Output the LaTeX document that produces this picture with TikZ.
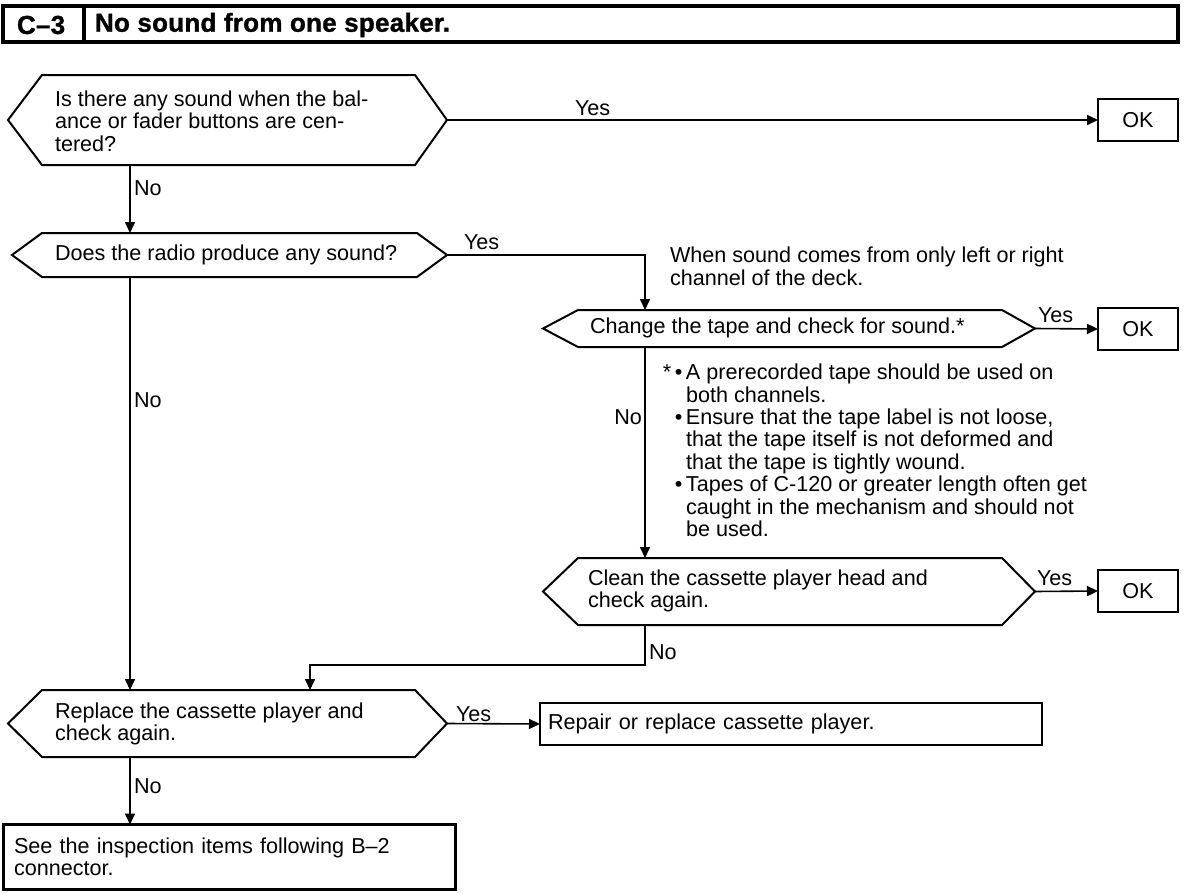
\documentclass[tikz,border=0pt]{standalone}
\usepackage{fontspec}
\setmainfont{Liberation Sans}
\usetikzlibrary{arrows.meta,calc,fit}
\newcommand{\hexdraw}[3]{%
  \draw[hexline] ($(#1.west)+(-#2,0)$) -- (#1.north west) -- (#1.north east) -- ($(#1.east)+(#3,0)$) -- (#1.south east) -- (#1.south west) -- cycle;
  \coordinate (#1-w) at ($(#1.west)+(-#2,0)$);
  \coordinate (#1-e) at ($(#1.east)+(#3,0)$);}
\newcommand{\mainsize}{\fontsize{10.8}{11.2}\selectfont}
\begin{document}
\begin{tikzpicture}[x=0.5pt,y=-0.5pt,
  every node/.style={inner sep=0pt, outer sep=0pt},
  txt/.style={font=\mainsize, align=left},
  hexline/.style={line width=1pt, line join=miter},
  conn/.style={line width=0.8pt},
  arr/.style={conn, -{Triangle[length=5.5pt,width=5pt]}},
  okbox/.style={draw, line width=1.2pt, minimum width=40pt, minimum height=21pt, font=\mainsize},
  lab/.style={font=\mainsize},
  ttl/.style={font=\bfseries\fontsize{13}{15}\selectfont\addfontfeature{LetterSpace=1,FakeBold=1.2}, anchor=west},
]
\useasboundingbox (0,0) rectangle (1200,894);
% title
\node[fit={(3,6) (1178,42)}, draw, line width=1.6pt] (title) {};
\coordinate (tdiv) at (84,6);
\draw[line width=1.6pt] (tdiv) -- (tdiv |- title.south);
\node[ttl] (tnum) at (17,25) {C–3};
\node[ttl] (ttext) at (95,25) {No sound from one speaker.};
% column coordinates
\coordinate (c1) at (130,0);
\coordinate (c3) at (645,0);
\coordinate (j1) at (310,665);
% decisions
\node[fit={(42,75) (415,165)}] (h1) {};
\hexdraw{h1}{34}{32}
\node[txt, anchor=west] (t1) at (55,121) {Is there any sound when the bal-\\ance or fader buttons are cen-\\tered?};
\node[fit={(42,233) (417,277)}] (h2) {};
\hexdraw{h2}{30}{30}
\node[txt, anchor=west] (t2) at (55,255) {Does the radio produce any sound?};
\node[fit={(578,310) (1002,347)}] (h3) {};
\hexdraw{h3}{35}{33}
\node[txt, anchor=west] (t3) at (590,328) {Change the tape and check for sound.*};
\node[fit={(578,558) (1002,625)}] (h4) {};
\hexdraw{h4}{35}{33}
\node[txt, anchor=west] (t4) at (588,591) {Clean the cassette player head and\\check again.};
\node[fit={(42,690) (415,757)}] (h5) {};
\hexdraw{h5}{34}{32}
\node[txt, anchor=west] (t5) at (55,724) {Replace the cassette player and\\check again.};
% results
\node[okbox] (ok1) at (1138,120) {OK};
\node[okbox] (ok2) at (1138,329) {OK};
\node[okbox] (ok3) at (1138,591) {OK};
\node[draw, line width=1.2pt, minimum width=251pt, minimum height=21pt, text width=243pt, inner xsep=4pt, txt] (rep) at (791,724) {Repair or replace cassette player.};
\node[draw, line width=1.5pt, minimum width=226pt, minimum height=32.5pt, text width=215pt, inner xsep=5.5pt, txt] (fin) at (229,857) {See the inspection items following B–2\\connector.};
% notes
\node[txt, anchor=north west] (note1) at (670,247) {When sound comes from only left or right\\channel of the deck.};
\node[txt, anchor=north west] (note2) at (658,364) {\makebox[14pt][r]{*\,\textbullet\,}A prerecorded tape should be used on\\
\hspace*{14pt}both channels.\\
\makebox[14pt][r]{\textbullet\,}Ensure that the tape label is not loose,\\
\hspace*{14pt}that the tape itself is not deformed and\\
\hspace*{14pt}that the tape is tightly wound.\\
\makebox[14pt][r]{\textbullet\,}Tapes of C-120 or greater length often get\\
\hspace*{14pt}caught in the mechanism and should not\\
\hspace*{14pt}be used.};
% connectors
\draw[arr] (h1-e) -- (ok1.west);
\node[lab, anchor=base west] (y1) at (575,115) {Yes};
\draw[arr] (h1.south -| c1) -- (h2.north -| c1);
\node[lab, anchor=west] (n1) at (134,188) {No};
\draw[arr] (h2-e) -| (h3.north -| c3);
\node[lab, anchor=base west] (y2) at (464,249) {Yes};
\draw[arr] (h2.south -| c1) -- (h5.north -| c1);
\node[lab, anchor=west] (n2) at (134,400) {No};
\draw[arr] (h3-e) -- (ok2.west);
\node[lab, anchor=base west] (y3) at (1038,322) {Yes};
\draw[arr] (h3.south -| c3) -- (h4.north -| c3);
\node[lab, anchor=east] (n3) at (642,417) {No};
\draw[arr] (h4-e) -- (ok3.west);
\node[lab, anchor=base west] (y4) at (1037,585) {Yes};
\draw[arr] (h4.south -| c3) |- (j1) -- (h5.north -| j1);
\node[lab, anchor=west] (n4) at (649,652) {No};
\draw[arr] (h5-e) -- (rep.west);
\node[lab, anchor=base west] (y5) at (456,721) {Yes};
\draw[arr] (h5.south -| c1) -- (fin.north -| c1);
\node[lab, anchor=west] (n5) at (134,786) {No};
\end{tikzpicture}
\end{document}
